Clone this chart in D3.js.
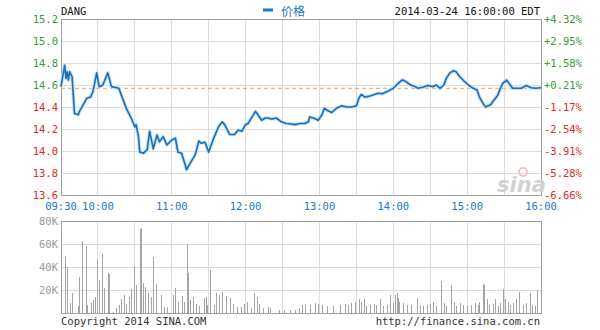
<!DOCTYPE html>
<html>
<head>
<meta charset="utf-8">
<script src="https://cdn.jsdelivr.net/npm/d3@7"></script>
<style>
body{margin:0;background:#fff}
text{font-family:"DejaVu Sans Mono",monospace;font-size:10.5px}
</style>
</head>
<body>
<div id="chart"></div>
<script>
// --- data ---
const symbol = 'DANG';
const stamp = '2014-03-24 16:00:00 EDT';
const legendLabel = '价格';
const prevClose = 14.57;

const priceTicks = [15.2, 15.0, 14.8, 14.6, 14.4, 14.2, 14.0, 13.8, 13.6];
const pctLabels = ['+4.32%', '+2.95%', '+1.58%', '+0.21%', '-1.17%', '-2.54%', '-3.91%', '-5.28%', '-6.66%'];
const timeLabels = ['09:30', '10:00', '11:00', '12:00', '13:00', '14:00', '15:00', '16:00'];
const volTicks = [20, 40, 60, 80];

const times = ['09:30','09:33','09:34','09:35','09:36','09:37','09:39','09:41','09:44','09:45','09:48','09:51','09:54','09:56','09:59',
  '10:01','10:04','10:08','10:11','10:17','10:19','10:23','10:27','10:30','10:31','10:33','10:34','10:37','10:40','10:42','10:45','10:48','10:50','10:53','10:56',
  '11:00','11:03','11:05','11:08','11:11','11:12','11:15','11:19','11:22','11:24','11:27','11:30','11:34','11:38','11:41','11:43','11:47','11:51','11:54','11:57',
  '12:00','12:02','12:08','12:10','12:13','12:16','12:18','12:21','12:25','12:29','12:33','12:37','12:40','12:44','12:48','12:51','12:52','12:55','12:59',
  '13:02','13:04','13:07','13:10','13:14','13:18','13:22','13:26','13:30','13:32','13:34','13:37','13:41','13:45','13:48','13:51','13:55',
  '14:00','14:04','14:07','14:09','14:14','14:18','14:20','14:24','14:28','14:32','14:35','14:38','14:41','14:43','14:46','14:49','14:51','14:54','14:58',
  '15:01','15:05','15:08','15:10','15:13','15:15','15:19','15:23','15:25','15:27','15:29','15:32','15:35','15:37','15:40','15:44','15:48','15:52','15:56','16:00'];
const prices = [14.585,14.78,14.66,14.72,14.645,14.72,14.675,14.34,14.33,14.36,14.42,14.48,14.49,14.54,14.71,
  14.585,14.60,14.71,14.585,14.57,14.51,14.39,14.30,14.22,14.24,14.13,13.99,13.98,14.01,14.18,14.02,14.145,14.085,14.13,14.055,
  14.10,14.115,13.99,13.98,13.87,13.83,13.89,13.965,14.09,14.07,14.08,13.99,14.115,14.22,14.265,14.24,14.15,14.15,14.19,14.18,
  14.24,14.25,14.36,14.33,14.28,14.30,14.30,14.29,14.30,14.265,14.25,14.245,14.24,14.25,14.25,14.265,14.31,14.30,14.28,
  14.33,14.39,14.365,14.35,14.39,14.41,14.40,14.40,14.41,14.48,14.515,14.49,14.50,14.515,14.525,14.52,14.54,
  14.57,14.615,14.645,14.64,14.60,14.585,14.57,14.58,14.595,14.585,14.60,14.57,14.60,14.66,14.71,14.73,14.72,14.675,14.63,
  14.60,14.57,14.555,14.49,14.43,14.40,14.42,14.48,14.51,14.57,14.615,14.645,14.60,14.57,14.57,14.57,14.595,14.575,14.57,14.575];

// volume: minutes after the open, thousands of shares
const volMinutes = [3,5,7,9,14,15,17,20,21,24,26,28,29,31,33,35,38,39,42,45,47,49,51,53,55,57,59,61,64,65,67,68,71,73,75,77,81,84,86,
  91,93,95,98,100,102,103,105,107,110,112,116,118,119,121,124,126,128,131,134,137,140,143,146,149,151,154,157,159,161,164,168,170,177,181,186,190,193,
  196,198,202,206,209,212,216,221,227,231,233,236,239,242,244,246,248,251,254,256,259,262,265,267,270,271,273,274,275,278,281,284,289,292,294,297,300,302,305,
  309,311,313,317,319,321,324,327,330,333,336,339,340,343,344,346,348,351,353,355,357,359,361,363,365,367,370,372,375,378,381,383,385,387];
const volK = [50,40,9,17,6,31,63,58,7,9,11,14,47,29,51,22,35,34,1,4,7,12,16,8,14,21,41,24,73,74,26,23,17,14,49,25,16,5,5,
  16,22,10,15,10,60,35,11,14,8,6,13,14,7,37,7,17,16,18,15,13,8,5,5,8,10,4,17,14,8,4,5,4,3,3,3,3,4,
  7,8,7,9,8,7,6,6,7,8,7,9,10,12,10,12,6,7,8,7,12,6,7,16,9,16,17,13,10,9,7,7,13,7,6,7,8,10,6,
  28,9,6,24,10,6,9,7,6,7,9,7,10,25,24,12,7,8,12,6,9,21,12,10,7,9,12,18,7,9,17,7,6,20];

// --- layout ---
const width = 600, height = 330;
const left = 61, right = 541;
const pTop = 19, pBottom = 195;
const vTop = 221, vBottom = 313;

const green = '#3a9a3a', red = '#e02828', blue = '#2079c7';

const svg = d3.select('#chart').append('svg')
  .attr('width', width).attr('height', height);

const parse = d3.timeParse('%H:%M');
const open = parse('09:30');

const x = d3.scaleTime()
  .domain([open, parse('16:00')])
  .range([left, right]);
const y = d3.scaleLinear().domain([13.6, 15.2]).range([pBottom, pTop]);
const yv = d3.scaleLinear().domain([0, 80]).range([vBottom, vTop]);

const gridTimes = x.ticks(d3.timeMinute.every(30));

// price panel grid
const pg = svg.append('g').attr('shape-rendering', 'crispEdges');
pg.selectAll('.hg').data(priceTicks).join('line')
  .attr('x1', left).attr('x2', right)
  .attr('y1', d => y(d)).attr('y2', d => y(d))
  .attr('stroke', '#dcdcdc');
pg.selectAll('.vg').data(gridTimes).join('line')
  .attr('x1', d => x(d)).attr('x2', d => x(d))
  .attr('y1', pTop).attr('y2', pBottom)
  .attr('stroke', '#dcdcdc');
pg.append('rect')
  .attr('x', left).attr('y', pTop)
  .attr('width', right - left).attr('height', pBottom - pTop)
  .attr('fill', 'none').attr('stroke', '#a0a0a0');

// volume panel grid
const vg = svg.append('g').attr('shape-rendering', 'crispEdges');
vg.selectAll('.hg').data(volTicks).join('line')
  .attr('x1', left).attr('x2', right)
  .attr('y1', d => yv(d)).attr('y2', d => yv(d))
  .attr('stroke', '#dcdcdc');
vg.selectAll('.vg').data(gridTimes).join('line')
  .attr('x1', d => x(d)).attr('x2', d => x(d))
  .attr('y1', vTop).attr('y2', vBottom)
  .attr('stroke', '#dcdcdc');
vg.append('rect')
  .attr('x', left).attr('y', vTop)
  .attr('width', right - left).attr('height', vBottom - vTop)
  .attr('fill', 'none').attr('stroke', '#a0a0a0');

// sina watermark
svg.append('text')
  .attr('x', 497).attr('y', 192)
  .attr('fill', '#d2d2d2')
  .style('font-family', 'DejaVu Sans')
  .style('font-size', '21px')
  .style('font-style', 'italic')
  .style('font-weight', 'bold')
  .text('sina');
svg.append('circle')
  .attr('cx', 523).attr('cy', 172).attr('r', 4)
  .attr('fill', 'none').attr('stroke', '#f6c4c8').attr('stroke-width', 2);

// previous close
svg.append('line')
  .attr('x1', left).attr('x2', right)
  .attr('y1', y(prevClose)).attr('y2', y(prevClose))
  .attr('stroke', '#f2a050').attr('stroke-dasharray', '4,3');

// price line
const pts = times.map((t, i) => ({t: parse(t), p: prices[i]}));
const line = d3.line().x(d => x(d.t)).y(d => y(d.p));
svg.append('path').datum(pts)
  .attr('d', line).attr('fill', 'none')
  .attr('stroke', '#c4e0f6').attr('stroke-width', 3.6).attr('stroke-linejoin', 'round');
svg.append('path').datum(pts)
  .attr('d', line).attr('fill', 'none')
  .attr('stroke', '#1c6eb6').attr('stroke-width', 1.6).attr('stroke-linejoin', 'round');

// volume bars
svg.append('g').attr('shape-rendering', 'crispEdges')
  .selectAll('line').data(volMinutes).join('line')
  .attr('x1', d => Math.round(x(d3.timeMinute.offset(open, d))) + 0.5)
  .attr('x2', d => Math.round(x(d3.timeMinute.offset(open, d))) + 0.5)
  .attr('y1', vBottom)
  .attr('y2', (d, i) => yv(volK[i]))
  .attr('stroke', '#a4a4a4');

// left price labels
svg.append('g').selectAll('text').data(priceTicks).join('text')
  .attr('x', 58).attr('y', d => y(d) + 4)
  .attr('text-anchor', 'end')
  .attr('fill', d => d >= prevClose ? green : red)
  .text(d => d.toFixed(1));

// right percent labels
svg.append('g').selectAll('text').data(pctLabels).join('text')
  .attr('x', 544).attr('y', (d, i) => y(priceTicks[i]) + 4)
  .attr('fill', d => d[0] === '+' ? green : red)
  .text(d => d);

// time labels
svg.append('g').selectAll('text').data(timeLabels).join('text')
  .attr('x', d => x(parse(d))).attr('y', 210)
  .attr('text-anchor', 'middle')
  .attr('fill', blue)
  .text(d => d);

// volume labels
svg.append('g').selectAll('text').data(volTicks).join('text')
  .attr('x', 58).attr('y', d => yv(d) + 4)
  .attr('text-anchor', 'end')
  .attr('fill', '#9a9a9a')
  .text(d => d + 'K');

// header
svg.append('text').attr('x', left).attr('y', 15).attr('fill', '#111').text(symbol);
svg.append('text').attr('x', right - 1).attr('y', 15)
  .attr('text-anchor', 'end').attr('fill', '#111').text(stamp);
svg.append('line')
  .attr('x1', 263).attr('x2', 273).attr('y1', 10).attr('y2', 10)
  .attr('stroke', blue).attr('stroke-width', 3);
svg.append('text').attr('x', 281).attr('y', 16)
  .attr('fill', blue)
  .style('font-family', '"Noto Sans CJK SC"').style('font-size', '12px')
  .text(legendLabel);

// footer
svg.append('text').attr('x', left).attr('y', 325).attr('fill', '#333').text('Copyright 2014 SINA.COM');
svg.append('text').attr('x', right - 1).attr('y', 325)
  .attr('text-anchor', 'end').attr('fill', '#333').text('http://finance.sina.com.cn');
</script>
</body>
</html>
